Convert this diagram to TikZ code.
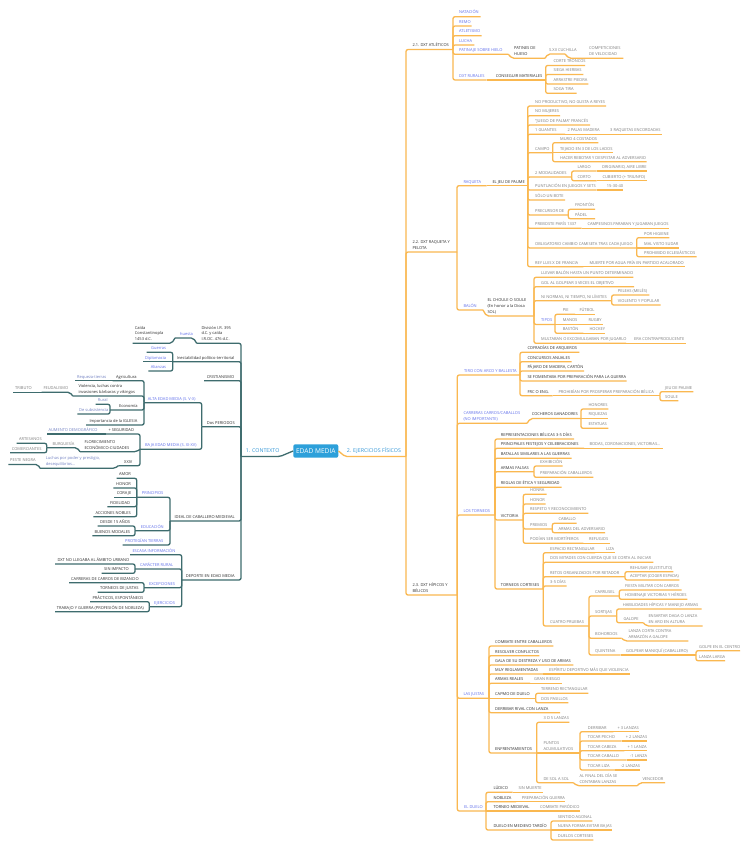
\documentclass[tikz,border=0pt]{standalone}
\usepackage{fontspec}
\setmainfont{Open Sans}
\usetikzlibrary{calc}
\definecolor{orL}{RGB}{250,184,80}
\definecolor{teL}{RGB}{62,108,110}
\definecolor{dkT}{RGB}{45,45,45}
\definecolor{gyT}{RGB}{125,125,125}
\definecolor{blT}{RGB}{95,110,235}
\definecolor{bgT}{RGB}{115,130,195}
\definecolor{boxB}{RGB}{45,160,218}
\definecolor{brT}{RGB}{50,150,215}
\newcommand\fs{\fontsize{4}{5.7}\selectfont}
\newcommand\ml[1]{\begin{tabular}[b]{@{}l@{}}#1\end{tabular}}
\tikzset{
  ol/.style={draw=orL, line width=1.3pt, rounded corners=2},
  tl/.style={draw=teL, line width=1.3pt, rounded corners=2},
  tx/.style={anchor=base west, inner sep=0pt, font=\fs},
  dk/.style={tx, text=dkT},
  gy/.style={tx, text=gyT},
  bl/.style={tx, text=blT},
  bg/.style={tx, text=bgT},
  br/.style={anchor=base west, inner sep=0pt, font=\fontsize{5.3}{6}\selectfont, text=brT},
}
% right side: name, parent, text x, y, end x, style, text
\newcommand\rE[7]{\coordinate (#1-e) at (#5,#4);\draw[ol] (#2-e) |- (#1-e);\node[#6] (#1) at (#3,#4-2.7) {#7};}
\newcommand\rL[7]{\coordinate (#1-e) at (#5,#4);\draw[ol] (#2-e) -- (#1-e);\node[#6] (#1) at (#3,#4-2.7) {#7};}
\newcommand\rS[8]{\coordinate (#1-e) at (#5,#4);\draw[ol] (#2-e) -- (#8,#4) -- (#1-e);\node[#6] (#1) at (#3,#4-2.7) {#7};}
% left side: name, parent, text x, y, start x, style, text
\newcommand\lE[7]{\coordinate (#1-s) at (#5,#4);\draw[tl] (#2-s) |- (#1-s);\node[#6] (#1) at (#3,#4-2.7) {#7};}
\newcommand\lL[7]{\coordinate (#1-s) at (#5,#4);\draw[tl] (#2-s) -- (#1-s);\node[#6] (#1) at (#3,#4-2.7) {#7};}
\newcommand\lS[8]{\coordinate (#1-s) at (#5,#4);\draw[tl] (#2-s) -- (#8,#4) -- (#1-s);\node[#6] (#1) at (#3,#4-2.7) {#7};}
\begin{document}
\begin{tikzpicture}[x=1pt,y=-1pt]
\fill[white] (0,0) rectangle (749,848);
\useasboundingbox (0,0) rectangle (749,848);
% root
\node[fill=boxB, rounded corners=2, text=white, minimum width=45pt, minimum height=13.4pt, inner sep=0pt, font=\fontsize{6.6}{8}\selectfont] (edad) at (315.8,451) {EDAD MEDIA};
\coordinate (ef-e) at (406,456.5);
\draw[ol] (edad.east) -- (345,456.5) -- (ef-e);
\node[br] (ef) at (346.7,452.3) {2. EJERCICIOS FÍSICOS};
\coordinate (ctx-s) at (241,456.5);
\draw[tl] (edad.west) -- (280,456.5) -- (ctx-s);
\node[br] (ctx) at (245.7,452.3) {1. CONTEXTO};
% ===== right
\rE{a21}{ef}{412.3}{49.5}{453}{dk}{2.1. DXT ATLÉTICOS}
\rE{a22}{ef}{412.3}{252}{457}{dk}{\ml{2.2. DXT RAQUETA Y\\PELOTA}}
\rE{a23}{ef}{412.3}{595}{457.3}{dk}{\ml{2.3. DXT HÍPICOS Y\\BÉLICOS}}
% 2.1
\rE{nat}{a21}{459}{16.7}{480.7}{bl}{NATACIÓN}
\rE{remo}{a21}{459}{26}{471.7}{bl}{REMO}
\rE{atl}{a21}{459}{35.7}{481.7}{bl}{ATLETISMO}
\rE{luc}{a21}{459}{45}{474.3}{bl}{LUCHA}
\rE{pat}{a21}{459}{54.3}{508.3}{bl}{PATINAJE SOBRE HIELO}
\rS{phu}{pat}{514}{58.3}{545}{dk}{\ml{PATINES DE\\HUESO}}{512}
\rS{sxii}{phu}{549}{54}{565}{gy}{S.XII CUCHILLA}{548}
\rS{comp}{sxii}{589}{58.3}{623.3}{gy}{\ml{COMPETICIONES\\DE VELOCIDAD}}{569}
\rE{rur}{a21}{459}{80}{486.7}{bl}{DXT RURALES}
\rL{cons}{rur}{495.7}{80}{545.7}{dk}{CONSEGUIR MATERIALES}
\rE{cort}{cons}{553.3}{65.5}{585}{gy}{CORTE TRONCOS}
\rE{sieg}{cons}{553.3}{74.5}{583.3}{gy}{SIEGA HIERBAS}
\rE{arr}{cons}{553.3}{84}{588.3}{gy}{ARRASTRE PIEDRA}
\rE{soga}{cons}{553.3}{93.3}{576.7}{gy}{SOGA TIRA}
% 2.2 raqueta
\rE{raq}{a22}{463.3}{185.7}{486.7}{bl}{RAQUETA}
\rL{jeu}{raq}{492.3}{185.7}{527.7}{dk}{EL JEU DE PAUME}
\rE{np}{jeu}{535}{106}{606}{gy}{NO PRODUCTIVO, NO GUSTA A REYES}
\rE{nm}{jeu}{535}{115.7}{560}{gy}{NO MUJERES}
\rE{jp}{jeu}{535}{125}{590}{gy}{“JUEGO DE PALMA” FRANCÉS}
\rE{g1}{jeu}{535}{134.3}{565}{gy}{1 GUANTES}
\rL{g2}{g1}{567.3}{134.3}{607.7}{gy}{2 PALAS MADERA}
\rL{g3}{g2}{610}{134.3}{661.7}{gy}{3 RAQUETAS ENCORDADAS}
\rE{cam}{jeu}{535}{152.7}{552.7}{gy}{CAMPO}
\rE{muro}{cam}{560}{142.7}{598.3}{gy}{MURO 4 COSTADOS}
\rL{tej}{cam}{560}{152.7}{613.3}{gy}{TEJADO EN 3 DE LOS LADOS}
\rE{hac}{cam}{560}{161.7}{646.7}{gy}{HACER REBOTAR Y DESPISTAR AL ADVERSARIO}
\rE{mod}{jeu}{535}{177}{571.7}{gy}{2 MODALIDADES}
\rE{lar}{mod}{577.3}{171}{596.7}{gy}{LARGO}
\rL{ori}{lar}{601.7}{171}{646.7}{gy}{ORIGINARIO, AIRE LIBRE}
\rE{cor}{mod}{577.3}{180.7}{596.7}{gy}{CORTO}
\rL{cub}{cor}{602.3}{180.7}{646.7}{gy}{CUBIERTO (+ TRIUNFO)}
\rE{pun}{jeu}{535}{190}{596.7}{gy}{PUNTUACIÓN EN JUEGOS Y SETS}
\rL{p15}{pun}{606.7}{190}{623.3}{gy}{15-30-40}
\rE{bote}{jeu}{535}{200}{565}{gy}{SÓLO UN BOTE}
\rE{pre}{jeu}{535}{215}{568.3}{gy}{PRECURSOR DE}
\rE{fro}{pre}{575}{209.3}{595}{gy}{FRONTÓN}
\rE{pad}{pre}{575}{218.7}{595}{gy}{PÁDEL}
\rE{preb}{jeu}{535}{228.3}{581.7}{gy}{PREBOSTE PARÍS 1337}
\rL{camp}{preb}{587.3}{228.3}{669.3}{gy}{CAMPESINOS PARABAN Y JUGABAN JUEGOS}
\rE{obl}{jeu}{535}{248}{636.7}{gy}{OBLIGATORIO CAMBIO CAMISETA TRAS CADA JUEGO}
\rE{hig}{obl}{644}{237.7}{669.3}{gy}{POR HIGIENE}
\rL{mal}{obl}{644}{248}{679.3}{gy}{MAL VISTO SUDAR}
\rE{proh}{obl}{644}{256.7}{696.7}{gy}{PROHIBIDO ECLESIÁSTICOS}
\rE{rey}{jeu}{535}{266.7}{583.3}{gy}{REY LUIS X DE FRANCIA}
\rL{mue}{rey}{589.3}{266.7}{685}{gy}{MUERTE POR AGUA FRÍA EN PARTIDO ACALORADO}
% 2.2 balon
\rE{bal}{a22}{463.3}{310}{483}{bl}{BALÓN}
\rS{chou}{bal}{487.3}{316}{534}{dk}{\ml{EL CHOULE O SOULE\\(En honor a la Diosa\\SOL)}}{486.5}
\rE{llev}{chou}{541}{277.3}{633.3}{gy}{LLEVAR BALÓN HASTA UN PUNTO DETERMINADO}
\rE{gol}{chou}{541}{286.7}{634}{gy}{GOL AL GOLPEAR 3 VECES EL OBJETIVO}
\rE{ninr}{chou}{541}{300.7}{611.7}{gy}{NI NORMAS, NI TIEMPO, NI LÍMITES}
\rE{pel}{ninr}{617.7}{295}{649.3}{gy}{PELEAS (MELÉS)}
\rE{vio}{ninr}{617.7}{305}{660.7}{gy}{VIOLENTO Y POPULAR}
\rE{tip}{chou}{541}{324.5}{555}{bl}{TIPOS}
\rE{pie}{tip}{562.7}{314.3}{575}{gy}{PIE}
\rL{fut}{pie}{579.3}{314.3}{595}{gy}{FÚTBOL}
\rL{man}{tip}{562.7}{324.5}{581.7}{gy}{MANOS}
\rL{rug}{man}{588.3}{324.5}{602.7}{gy}{RUGBY}
\rE{bas}{tip}{562.7}{333.3}{583.3}{gy}{BASTÓN}
\rL{hoc}{bas}{589.3}{333.3}{605}{gy}{HOCKEY}
\rE{mul}{chou}{541}{343.3}{626}{gy}{MULTABAN O EXCOMULGABAN POR JUGARLO}
\rL{era}{mul}{634}{343.3}{686}{gy}{ERA CONTRAPRODUCENTE}
% 2.3 tiro
\rE{tiro}{a23}{464}{375}{520}{bl}{TIRO CON ARCO Y BALLESTA}
\rE{cof}{tiro}{527.3}{352.3}{579.3}{dk}{COFRADÍAS DE ARQUEROS}
\rE{conc}{tiro}{527.3}{361.7}{571.7}{dk}{CONCURSOS ANUALES}
\rE{paj}{tiro}{527.3}{371}{584}{dk}{PÁJARO DE MADERA, CARTÓN}
\rE{fom}{tiro}{527.3}{381}{626.7}{dk}{SE FOMENTABA POR PREPARACIÓN PARA LA GUERRA}
\rE{frc}{tiro}{527.3}{395.7}{552.7}{dk}{FRC O ENG.}
\rL{prohb}{frc}{558.3}{395.7}{660}{gy}{PROHIBÍAN POR PROSPERAR PREPARACIÓN BÉLICA}
\rE{jdp}{prohb}{665}{391.7}{693.3}{gy}{JEU DE PAUME}
\rE{soul}{prohb}{665}{400.7}{678.3}{gy}{SOULE}
% carreras
\rE{carr}{a23}{463.3}{423.3}{527}{bl}{\ml{CARRERAS CARROS/CABALLOS\\(NO IMPORTANTE)}}
\rS{coch}{carr}{531.7}{418.5}{581}{dk}{COCHEROS GANADORES}{530.5}
\rE{hon}{coch}{588.3}{409}{608.3}{gy}{HONORES}
\rL{riq}{coch}{588.3}{418.5}{608.3}{gy}{RIQUEZAS}
\rE{est}{coch}{588.3}{428.3}{608.3}{gy}{ESTATUAS}
% torneos
\rE{torn}{a23}{463.3}{515}{495}{bl}{LOS TORNEOS}
\rE{rep}{torn}{500.7}{439}{574}{dk}{REPRESENTACIONES BÉLICAS 3-5 DÍAS}
\rE{fest}{torn}{500.7}{448.3}{584}{dk}{PRINCIPALES FESTEJOS Y CELEBRACIONES}
\rL{bod}{fest}{589.3}{448.3}{662.7}{gy}{BODAS, CORONACIONES, VICTORIAS...}
\rE{bat}{torn}{500.7}{458.3}{571.7}{dk}{BATALLAS SIMILARES A LAS GUERRAS}
\rE{armf}{torn}{500.7}{471.7}{534}{dk}{ARMAS FALSAS}
\rE{exh}{armf}{540}{466}{562.7}{gy}{EXHIBICIÓN}
\rE{prepc}{armf}{540}{477.3}{593.3}{gy}{PREPARACIÓN CABALLEROS}
\rE{regl}{torn}{500.7}{487.3}{561.7}{dk}{REGLAS DE ÉTICA Y SEGURIDAD}
\rE{vict}{torn}{500.7}{520}{523.3}{dk}{VICTORIA}
\rE{honra}{vict}{530}{494.3}{546.7}{gy}{HONRA}
\rE{honr}{vict}{530}{504}{545.7}{gy}{HONOR}
\rE{resp}{vict}{530}{513.3}{588.3}{gy}{RESPETO Y RECONOCIMIENTO}
\rE{prem}{vict}{530}{529}{552.3}{gy}{PREMIOS}
\rE{cab}{prem}{558.3}{523.3}{576.7}{gy}{CABALLO}
\rE{armd}{prem}{558.3}{532.7}{605}{gy}{ARMAS DEL ADVERSARIO}
\rE{mort}{vict}{530}{543.3}{583.3}{gy}{PODÍAN SER MORTÍFEROS}
\rL{ref}{mort}{589}{543.3}{610}{gy}{REFUGIOS}
\rE{tcor}{torn}{500.7}{589}{543.3}{dk}{TORNEOS CORTESES}
\rE{esp}{tcor}{550}{552.7}{595}{gy}{ESPACIO RECTANGULAR}
\rL{liza}{esp}{606}{552.7}{615}{gy}{LIZA}
\rE{dosm}{tcor}{550}{562.3}{653.3}{gy}{DOS MITADES CON CUERDA QUE SE CORTA AL INICIAR}
\rE{ret}{tcor}{550}{576.7}{625}{gy}{RETOS ORGANIZADOS POR RETADOR}
\rE{rehu}{ret}{630}{571.7}{673.3}{gy}{REHUSAR (SUSTITUTO)}
\rE{acep}{ret}{630}{580}{679.3}{gy}{ACEPTAR (COGER ESPADA)}
\rE{d35}{tcor}{550}{586}{566.7}{gy}{3-5 DÍAS}
\rE{cuat}{tcor}{550}{626}{589}{gy}{CUATRO PRUEBAS}
\rE{carru}{cuat}{595}{596}{619.3}{gy}{CARRUSEL}
\rE{fies}{carru}{625}{590}{681.7}{gy}{FIESTA MILITAR CON CARROS}
\rE{home}{carru}{625}{599.3}{687.3}{gy}{HOMENAJE VICTORIAS Y HÉROES}
\rE{sort}{cuat}{595}{616}{616.7}{gy}{SORTIJAS}
\rE{habi}{sort}{622.7}{609}{701.7}{gy}{HABILIDADES HÍPICAS Y MANEJO ARMAS}
\rE{galo}{sort}{623.3}{622.7}{643.3}{gy}{GALOPE}
\rS{ensa}{galo}{648.3}{626}{702.7}{gy}{\ml{ENSARTAR DAGA O LANZA\\EN ARO EN ALTURA}}{646.5}
\rE{boho}{cuat}{595}{638.3}{621.7}{gy}{BOHORDOS}
\rS{lanc}{boho}{628.3}{641}{688.3}{gy}{\ml{LANZA CORTA CONTRA\\ARMAZÓN A GALOPE}}{625}
\rE{quin}{cuat}{595}{655}{620.7}{gy}{QUINTENA}
\rL{golp}{quin}{626}{655}{696}{gy}{GOLPEAR MANIQUÍ (CABALLERO)}
\rE{gcen}{golp}{699}{650.7}{740}{gy}{GOLPE EN EL CENTRO}
\rE{llar}{golp}{699}{660.7}{725}{gy}{LANZA LARGA}
% justas
\rE{just}{a23}{463.3}{698.3}{489}{bl}{LAS JUSTAS}
\rE{comb}{just}{495}{646}{553.3}{dk}{COMBATE ENTRE CABALLEROS}
\rE{resol}{just}{495}{655.7}{539.3}{dk}{RESOLVER CONFLICTOS}
\rE{gala}{just}{495}{665}{573.3}{dk}{GALA DE SU DESTREZA Y USO DE ARMAS}
\rE{muyr}{just}{495}{674}{543.3}{dk}{MUY REGLAMENTADAS}
\rL{espi}{muyr}{549}{674}{630}{gy}{ESPÍRITU DEPORTIVO MÁS QUE VIOLENCIA}
\rE{armr}{just}{495}{683.3}{530}{dk}{ARMAS REALES}
\rL{gran}{armr}{534}{683.3}{561.7}{gy}{GRAN RIESGO}
\rL{capm}{just}{495}{698.3}{535.7}{dk}{CAPMO DE DUELO}
\rE{terr}{capm}{541}{693.3}{588.3}{gy}{TERRENO RECTANGULAR}
\rE{dosp}{capm}{541}{702.7}{568.3}{gy}{DOS PASILLOS}
\rE{derr}{just}{495}{712.7}{560}{dk}{DERRIBAR RIVAL CON LANZA}
\rE{enfr}{just}{495}{753}{536.7}{dk}{ENFRENTAMIENTOS}
\rE{l35}{enfr}{543.3}{722.3}{569.3}{gy}{3 O 5 LANZAS}
\rL{punt}{enfr}{543.3}{753}{580}{gy}{\ml{PUNTOS\\ACUMULATIVOS}}
\rE{tder}{punt}{587.7}{731.7}{613.3}{gy}{DERRIBAR}
\rL{t3}{tder}{617.3}{731.7}{639.3}{gy}{+ 3 LANZAS}
\rE{tpec}{punt}{587.7}{741}{621.7}{gy}{TOCAR PECHO}
\rL{t2}{tpec}{625.7}{741}{646.7}{gy}{+ 2 LANZAS}
\rE{tcab}{punt}{587.7}{750.7}{624.3}{gy}{TOCAR CABEZA}
\rL{t1}{tcab}{627.3}{750.7}{646.7}{gy}{+ 1 LANZA}
\rE{tcbl}{punt}{587.7}{760}{626.7}{gy}{TOCAR CABALLO}
\rL{tm1}{tcbl}{630}{760}{646.7}{gy}{-1 LANZA}
\rE{tliz}{punt}{587.7}{770}{615}{gy}{TOCAR LIZA}
\rL{tm2}{tliz}{620.7}{770}{640}{gy}{-2 LANZAS}
\rE{dsol}{enfr}{543.3}{782.7}{573.3}{gy}{DE SOL A SOL}
\rS{alfin}{dsol}{579.3}{785.7}{637.3}{gy}{\ml{AL FINAL DEL DÍA SE\\CONTABAN LANZAS}}{577}
\rS{venc}{alfin}{642.3}{782.7}{665}{gy}{VENCEDOR}{640}
% duelo
\rE{duel}{a23}{464}{811}{486}{bl}{EL DUELO}
\rE{lud}{duel}{493.3}{792.3}{512.7}{dk}{LÚDICO}
\rL{sinm}{lud}{518.3}{792.3}{543.3}{gy}{SIN MUERTE}
\rE{nob}{duel}{493.3}{801.7}{516}{dk}{NOBLEZA}
\rL{prg}{nob}{521.7}{801.7}{565}{gy}{PREPARACIÓN GUERRA}
\rL{tmed}{duel}{493.3}{811}{534}{dk}{TORNEO MEDIEVAL}
\rL{cpar}{tmed}{540}{811}{580}{gy}{COMBATE PARÓDICO}
\rE{dmt}{duel}{493.3}{830}{551}{dk}{DUELO EN MEDIEVO TARDÍO}
\rE{sag}{dmt}{557.7}{821}{592.3}{gy}{SENTIDO AGONAL}
\rL{nfe}{dmt}{557.7}{830}{611.7}{gy}{NUEVA FORMA EVITAR BAJAS}
\rE{dcor}{dmt}{557.7}{840}{593.3}{gy}{DUELOS CORTESES}
% ===== left
\lE{div}{ctx}{201.3}{343.3}{196.7}{dk}{\ml{División I.R. 395\\d.C. y caída\\I.R.OC. 476 d.C.}}
\lS{hues}{div}{180}{338}{175}{bl}{huesta}{193.3}
\lS{caid}{hues}{134.7}{343.3}{132.7}{dk}{\ml{Caída\\Constantinopla\\1453 d.C.}}{171.7}
\lE{ines}{ctx}{176.7}{361.7}{172.7}{dk}{Inestabilidad político-territorial}
\lE{guer}{ines}{151}{352.3}{146.7}{bl}{Guerras}
\lL{dipl}{ines}{145}{361.7}{142.7}{bl}{Diplomacia}
\lE{alia}{ines}{150.7}{371}{148.3}{bl}{Alianzas}
\lE{cris}{ctx}{206.7}{380.7}{204}{dk}{CRISTIANISMO}
\lE{dosp2}{ctx}{206.7}{426.7}{201.7}{dk}{Dos PERIODOS}
\lE{alta}{dosp2}{147.7}{402.7}{144}{bl}{ALTA EDAD MEDIA (S. V-X)}
\lE{agri}{alta}{116}{380.7}{112.7}{dk}{Agricultura}
\lL{requ}{agri}{77}{380.7}{75}{bg}{Requeza-tierras}
\lE{viol}{alta}{78.3}{396}{72.7}{dk}{\ml{Violencia, luchas contra\\invasiones bárbaras y vikingos}}
\lS{feud}{viol}{43.3}{392.3}{41.7}{gy}{FEUDALISMO}{70}
\lL{trib}{feud}{15}{392.3}{13.3}{gy}{TRIBUTO}
\lE{econ}{alta}{119}{410}{110}{dk}{Economía}
\lE{rura}{econ}{97.7}{404.3}{95.7}{bg}{Rural}
\lE{subs}{econ}{79}{414}{77.3}{bg}{De subsistencia}
\lE{igle}{alta}{89.3}{425}{86}{dk}{Importancia de la IGLESIA}
\lE{baja}{dosp2}{145}{449.3}{140}{bl}{BAJA EDAD MEDIA (S. XI-XV)}
\lE{segu}{baja}{108.3}{434}{106}{dk}{+ SEGURIDAD}
\lL{aume}{segu}{48.3}{434}{46.7}{bg}{AUMENTO DEMOGRÁFICO}
\lS{flor}{baja}{84.3}{451.7}{80}{dk}{\ml{FLORECIMIENTO\\ECONÓMICO-CIUDADES}}{136.5}
\lS{burg}{flor}{52.3}{447.7}{46.7}{gy}{BURGUESÍA}{77}
\lE{arte}{burg}{19}{443.3}{16.7}{gy}{ARTESANOS}
\lE{come}{burg}{11.7}{452.7}{10}{gy}{COMERCIANTES}
\lE{s14}{baja}{124}{465.7}{118.3}{dk}{XXIV}
\lS{luch}{s14}{45.7}{468.3}{40}{bg}{\ml{Luchas por poder y prestigio,\\desequilibrios...}}{115}
\lS{pest}{luch}{10}{464.5}{8.3}{gy}{PESTE NEGRA}{38}
\lE{idea}{ctx}{174.3}{521}{170}{dk}{IDEAL DE CABALLERO MEDIEVAL}
\lE{prin}{idea}{141.7}{497.3}{136.7}{bl}{PRINCIPIOS}
\lE{amor}{prin}{119}{478.3}{116.7}{dk}{AMOR}
\lE{hono}{prin}{116}{488}{113.3}{dk}{HONOR}
\lL{cora}{prin}{116.7}{497.3}{114}{dk}{CORAJE}
\lE{fide}{prin}{110}{506.7}{107.3}{dk}{FIDELIDAD}
\lE{acci}{prin}{95.3}{516.7}{93.3}{dk}{ACCIONES NOBLES}
\lE{educ}{idea}{140.7}{530.7}{135}{bl}{EDUCACIÓN}
\lE{desd}{educ}{100}{526}{97.7}{dk}{DESDE 15 AÑOS}
\lE{buen}{educ}{94.3}{535.7}{92.3}{dk}{BUENOS MODALES}
\lE{prot}{idea}{125}{545}{122.7}{bl}{PROTEGÍAN TIERRAS}
\lE{depo}{ctx}{185.7}{580}{181.7}{dk}{DEPORTE EN EDAD MEDIA}
\lE{esca}{depo}{132.3}{554.7}{130}{bl}{ESCASA INFORMACIÓN}
\lE{cara}{depo}{140}{569}{135}{bl}{CARÁCTER RURAL}
\lE{dxtn}{cara}{57.3}{564}{55}{dk}{DXT NO LLEGABA AL ÁMBITO URBANO}
\lE{sini}{cara}{104}{573.3}{101.7}{dk}{SIN IMPACTO}
\lE{exce}{depo}{149}{587.7}{144}{bl}{EXCEPCIONES}
\lE{carb}{exce}{71}{582.7}{69}{dk}{CARRERAS DE CARROS DE BIZANCIO}
\lE{tjus}{exce}{100}{592.3}{97.7}{dk}{TORNEOS DE JUSTAS}
\lE{ejer}{depo}{154}{606.7}{149.3}{bl}{EJERCICIOS}
\lE{prac}{ejer}{92.3}{601.7}{90}{dk}{PRÁCTICOS, ESPONTÁNEOS}
\lE{trab}{ejer}{56.7}{611.7}{55}{dk}{TRABAJO Y GUERRA (PROFESIÓN DE NOBLEZA)}
\end{tikzpicture}
\end{document}
